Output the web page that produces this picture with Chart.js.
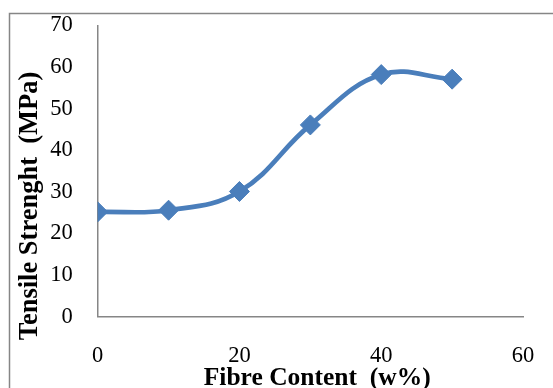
<!DOCTYPE html>
<html>
<head>
<meta charset="utf-8">
<script src="https://cdn.jsdelivr.net/npm/chart.js@4/dist/chart.umd.min.js"></script>
<style>
  html, body { margin: 0; padding: 0; background: #fff; }
  #wrap { width: 553px; height: 388px; position: relative; }
</style>
</head>
<body>
<div id="wrap"><canvas id="c" width="553" height="388"></canvas></div>
<script>
const fibreContent = [0, 10, 20, 30, 40, 50];
const tensileStrength = [25.2, 25.6, 30.1, 46.1, 58.2, 57.1];
const xTicks = [0, 20, 40, 60];
const yTicks = [0, 10, 20, 30, 40, 50, 60, 70];
const xTitle = 'Fibre Content  (w%)';
const yTitle = 'Tensile Strenght  (MPa)';

const points = fibreContent.map((x, i) => ({ x: x, y: tensileStrength[i] }));
const blue = '#4a7ebb';
const axisGrey = '#868686';
const fontFamily = "'Liberation Serif', 'Times New Roman', serif";

const framePlugin = {
  id: 'frame',
  beforeDraw(chart) {
    const ctx = chart.ctx;
    ctx.save();
    ctx.fillStyle = '#ffffff';
    ctx.fillRect(0, 0, chart.width, chart.height);
    ctx.strokeStyle = axisGrey;
    ctx.lineWidth = 1.5;
    ctx.strokeRect(9.5, 13.5, chart.width + 20, chart.height + 20);
    ctx.restore();
  }
};

const axisTitlePlugin = {
  id: 'axisTitles',
  afterDraw(chart) {
    const ctx = chart.ctx;
    const a = chart.chartArea;
    ctx.save();
    ctx.fillStyle = '#000';
    ctx.textAlign = 'center';
    ctx.textBaseline = 'alphabetic';
    ctx.font = 'bold 25.5px ' + fontFamily;
    ctx.fillText(xTitle, a.left + 219.5, a.bottom + 68.3);
    ctx.translate(a.left - 60.7, a.bottom - 110.7);
    ctx.rotate(-Math.PI / 2);
    ctx.font = 'bold 26.5px ' + fontFamily;
    ctx.fillText(yTitle, 0, 0);
    ctx.restore();
  }
};

new Chart(document.getElementById('c'), {
  type: 'line',
  data: {
    datasets: [{
      data: points,
      borderColor: blue,
      backgroundColor: blue,
      borderWidth: 4.7,
      tension: 0.4,
      pointStyle: 'rectRot',
      pointRadius: 10,
      pointBorderWidth: 1,
      pointBackgroundColor: blue,
      pointBorderColor: blue,
      fill: false
    }]
  },
  options: {
    responsive: false,
    animation: false,
    events: [],
    layout: { padding: { left: 25.2, right: 30, top: 25.5, bottom: -8.3 } },
    plugins: {
      legend: { display: false },
      tooltip: { enabled: false }
    },
    scales: {
      x: {
        type: 'linear',
        min: 0, max: 60,
        afterBuildTicks: (axis) => { axis.ticks = xTicks.map(v => ({ value: v })); },
        grid: { display: false, drawTicks: false },
        border: { display: true, color: axisGrey, width: 1.5 },
        ticks: {
          padding: 0,
          color: '#000',
          font: { family: fontFamily, size: 22.5, lineHeight: 3.537 }
        },
        title: { display: false, text: xTitle }
      },
      y: {
        type: 'linear',
        min: 0, max: 70,
        afterBuildTicks: (axis) => { axis.ticks = yTicks.map(v => ({ value: v })); },
        grid: { display: false, drawTicks: false },
        border: { display: true, color: axisGrey, width: 1.5 },
        ticks: {
          padding: 25,
          color: '#000',
          font: { family: fontFamily, size: 22.5, lineHeight: 0.04 }
        },
        title: { display: false, text: yTitle }
      }
    }
  },
  plugins: [framePlugin, axisTitlePlugin]
});
</script>
</body>
</html>
